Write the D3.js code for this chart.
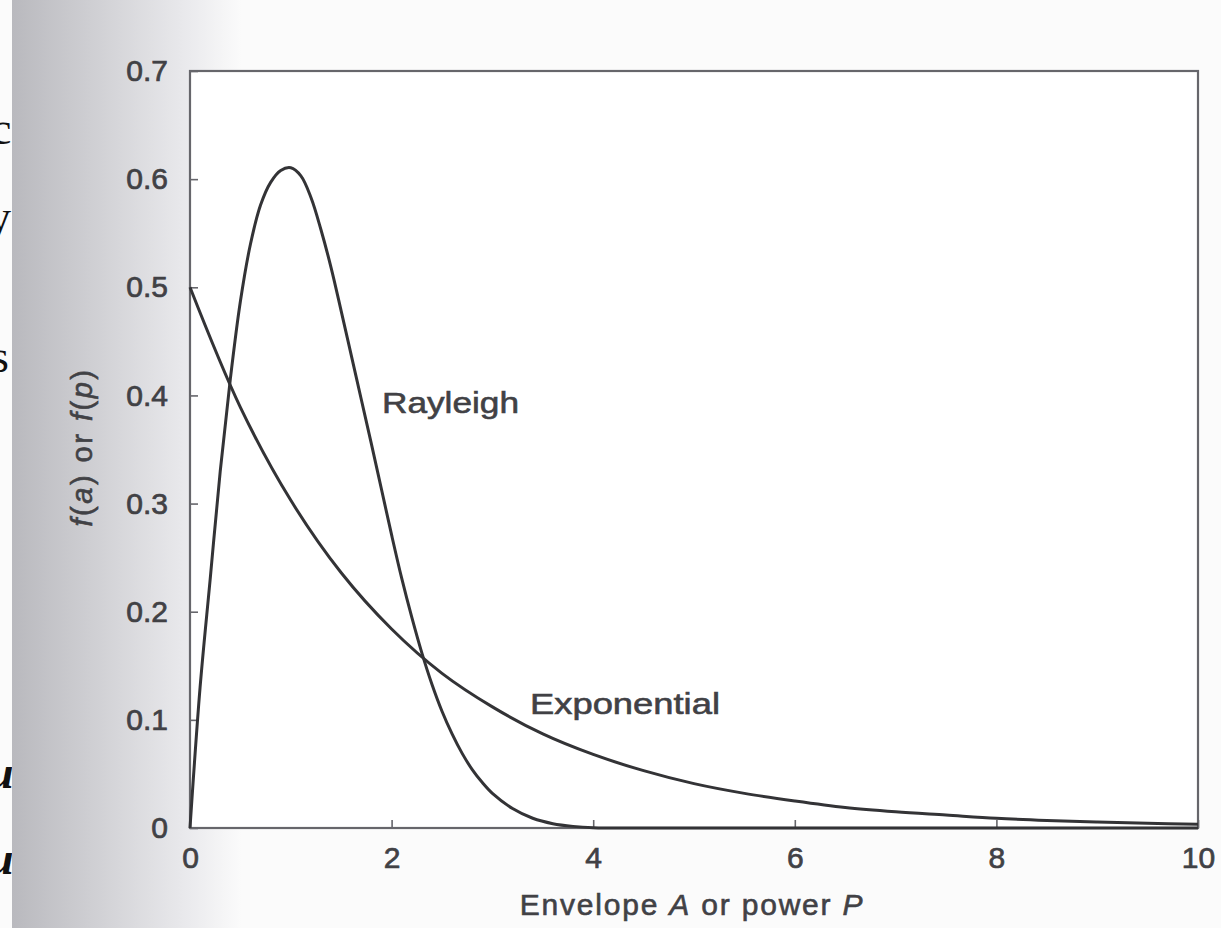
<!DOCTYPE html>
<html>
<head>
<meta charset="utf-8">
<script src="https://cdn.jsdelivr.net/npm/d3@7"></script>
<style>
  html, body { margin: 0; padding: 0; background: #fbfbfb; }
  svg { display: block; }
</style>
</head>
<body>
<svg id="chart" width="1221" height="928"></svg>
<script>
// values
var rayleighX = [0, 0.1, 0.2, 0.3, 0.4, 0.5, 0.6, 0.7, 0.8, 0.9, 1.0, 1.1, 1.2, 1.3, 1.4, 1.5,
                 1.6, 1.7, 1.8, 1.9, 2.0, 2.1, 2.2, 2.3, 2.4, 2.5, 2.6, 2.7, 2.8, 2.9, 3.0,
                 3.2, 3.4, 3.6, 3.8, 4.0, 4.5, 10];
var rayleighY = [0, 0.13, 0.23, 0.33, 0.415, 0.487, 0.54, 0.576, 0.597, 0.608, 0.6105, 0.603, 0.583,
                 0.553, 0.518, 0.478, 0.437, 0.396, 0.355, 0.313, 0.271, 0.231, 0.195, 0.162, 0.133,
                 0.108, 0.087, 0.069, 0.054, 0.042, 0.032, 0.018, 0.009, 0.004, 0.0015, 0.0003, 0, 0];

var expX = [0, 0.5, 1, 1.5, 2, 2.5, 3, 3.5, 4, 4.5, 5, 5.5, 6, 6.5, 7, 7.5, 8, 8.5, 9, 9.5, 10];
var expY = [0.5, 0.389, 0.303, 0.236, 0.184, 0.143, 0.112, 0.087, 0.068, 0.053, 0.041, 0.032,
            0.025, 0.019, 0.015, 0.012, 0.009, 0.007, 0.0056, 0.0043, 0.0034];

var xTicks = [0, 2, 4, 6, 8, 10];
var yTicks = [0, 0.1, 0.2, 0.3, 0.4, 0.5, 0.6, 0.7];

(function(){

var width = 1221, height = 928;
var plotLeft = 190, plotRight = 1198, plotTop = 71, plotBottom = 828;
var ink = "#333336", frameInk = "#66666b", textInk = "#414145";
var sans = "'Liberation Sans', Arial, Helvetica, sans-serif";

var svg = d3.select("#chart");

// scanned page: stray letters from the facing text and the shaded gutter
var defs = svg.append("defs");
var grad = defs.append("linearGradient").attr("id", "gutter")
    .attr("x1", "0").attr("x2", "1").attr("y1", "0").attr("y2", "0");
grad.append("stop").attr("offset", "0").attr("stop-color", "#b9b9be");
grad.append("stop").attr("offset", "0.35").attr("stop-color", "#cfcfd3");
grad.append("stop").attr("offset", "0.75").attr("stop-color", "#e9e9ec");
grad.append("stop").attr("offset", "1").attr("stop-color", "#fbfbfb");

var stray = [["c", -9, 144], ["y", -12, 232], ["s", -9, 372], ["u", -12, 788], ["u", -12, 874]];
svg.selectAll("text.stray")
    .data(stray)
    .enter().append("text")
    .attr("class", "stray")
    .attr("x", function(d){ return d[1]; })
    .attr("y", function(d){ return d[2]; })
    .attr("font-family", "'Liberation Serif', 'Times New Roman', serif")
    .attr("font-size", 46)
    .attr("font-style", function(d, i){ return i > 2 ? "italic" : "normal"; })
    .attr("font-weight", function(d, i){ return i > 2 ? "bold" : "normal"; })
    .attr("fill", "#111")
    .text(function(d){ return d[0]; });

svg.append("rect")
    .attr("x", 12).attr("y", 0)
    .attr("width", 230).attr("height", height)
    .attr("fill", "url(#gutter)");

// plot
var x = d3.scaleLinear().domain([0, 10]).range([plotLeft, plotRight]);
var y = d3.scaleLinear().domain([0, 0.7]).range([plotBottom, plotTop]);

svg.append("rect")
    .attr("x", plotLeft).attr("y", plotTop)
    .attr("width", plotRight - plotLeft).attr("height", plotBottom - plotTop)
    .attr("fill", "#ffffff");

var xAxis = svg.append("g")
    .attr("transform", "translate(0," + plotBottom + ")")
    .call(d3.axisBottom(x).tickValues(xTicks).tickSize(-8).tickPadding(19)
        .tickFormat(d3.format("d")));

var yAxis = svg.append("g")
    .attr("transform", "translate(" + plotLeft + ",0)")
    .call(d3.axisLeft(y).tickValues(yTicks).tickSize(-8).tickPadding(22)
        .tickFormat(function(d){ return d === 0 ? "0" : d3.format(".1f")(d); }));

[xAxis, yAxis].forEach(function(g){
    g.select(".domain").remove();
    g.selectAll(".tick line").attr("stroke", frameInk).attr("stroke-width", 1.6);
    g.selectAll(".tick text")
        .attr("font-family", sans)
        .attr("font-size", 30)
        .attr("fill", textInk)
        .attr("stroke", textInk)
        .attr("stroke-width", 0.7);
});

svg.append("rect")
    .attr("x", plotLeft).attr("y", plotTop)
    .attr("width", plotRight - plotLeft).attr("height", plotBottom - plotTop)
    .attr("fill", "none")
    .attr("stroke", frameInk)
    .attr("stroke-width", 2.2);

var line = d3.line()
    .x(function(d){ return x(d[0]); })
    .y(function(d){ return y(Math.max(0, d[1])); })
    .curve(d3.curveCatmullRom.alpha(0.5));

var series = [d3.zip(expX, expY), d3.zip(rayleighX, rayleighY)];

svg.selectAll("path.curve")
    .data(series)
    .enter().append("path")
    .attr("class", "curve")
    .attr("d", line)
    .attr("fill", "none")
    .attr("stroke", ink)
    .attr("stroke-width", 3)
    .attr("stroke-linejoin", "round");

// curve labels
var labels = [["Rayleigh", 382, 413, 137], ["Exponential", 530, 714, 190]];
svg.selectAll("text.curve-label")
    .data(labels)
    .enter().append("text")
    .attr("class", "curve-label")
    .attr("x", function(d){ return d[1]; })
    .attr("y", function(d){ return d[2]; })
    .attr("textLength", function(d){ return d[3]; })
    .attr("lengthAdjust", "spacingAndGlyphs")
    .attr("font-family", sans)
    .attr("font-size", 30)
    .attr("fill", textInk)
    .attr("stroke", textInk)
    .attr("stroke-width", 0.6)
    .text(function(d){ return d[0]; });

// axis titles
function richText(sel, parts){
    parts.forEach(function(p){
        sel.append("tspan")
            .attr("font-style", p[1] ? "italic" : "normal")
            .text(p[0]);
    });
}

var xTitle = svg.append("text")
    .attr("x", 692).attr("y", 915)
    .attr("text-anchor", "middle")
    .attr("font-family", sans)
    .attr("font-size", 30)
    .attr("letter-spacing", 1.8)
    .attr("fill", textInk)
    .attr("stroke", textInk)
    .attr("stroke-width", 0.6);
richText(xTitle, [["Envelope ", false], ["A", true], [" or power ", false], ["P", true]]);

var yTitle = svg.append("text")
    .attr("transform", "translate(92,447) rotate(-90)")
    .attr("text-anchor", "middle")
    .attr("font-family", sans)
    .attr("font-size", 29)
    .attr("letter-spacing", 2.5)
    .attr("fill", textInk)
    .attr("stroke", textInk)
    .attr("stroke-width", 0.6);
richText(yTitle, [["f", true], ["(", false], ["a", true], [") or ", false], ["f", true], ["(", false], ["p", true], [")", false]]);

})();
</script>
</body>
</html>
